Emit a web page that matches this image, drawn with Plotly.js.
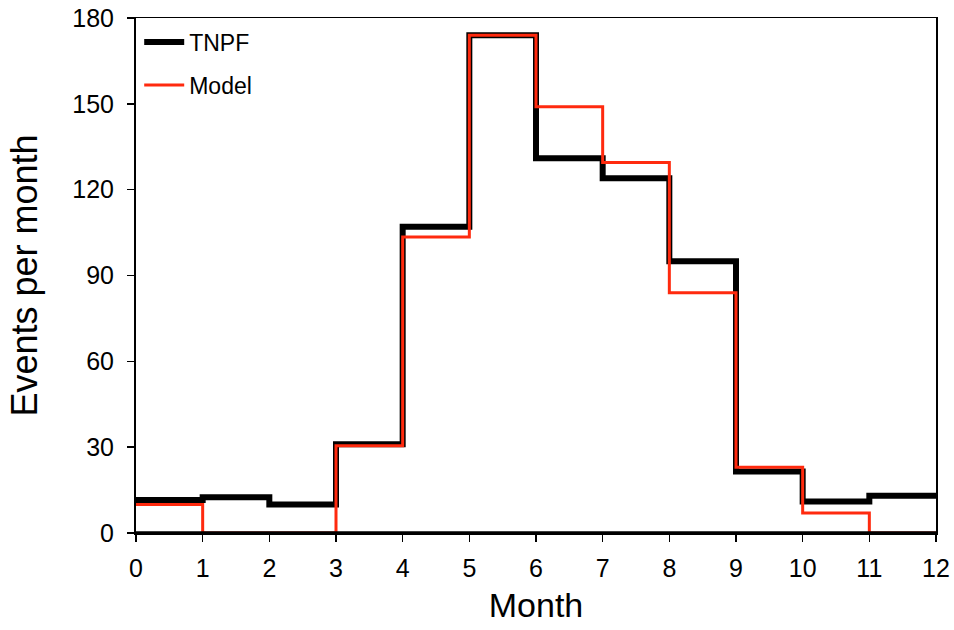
<!DOCTYPE html>
<html>
<head>
<meta charset="utf-8">
<script src="https://cdn.plot.ly/plotly-3.0.1.min.js"></script>
<style>html,body{margin:0;padding:0;background:#fff;}#chart{width:954px;height:630px;}</style>
</head>
<body>
<div id="chart"></div>
<script>
// Month bin edges (step starts); last value repeated to close the final step at 12
const months = [0,1,2,3,4,5,6,7,8,9,10,11,12];
const tnpf   = [11.5,12.5,10,31,107,174,131,124,95,21.5,11,13,13];
const model  = [10,0,0,30.5,103.5,174,149,129.5,84,23,7,0,0];
const xTicks = [0,1,2,3,4,5,6,7,8,9,10,11,12];
const yTicks = [0,30,60,90,120,150,180];

const font = 'Liberation Sans, Arial, sans-serif';

const traces = [
  {x: months, y: tnpf, name: 'TNPF', mode: 'lines', line: {shape: 'hv', color: '#000000', width: 6},
   legendgroup: 'a'},
  {x: months, y: model, name: 'Model', mode: 'lines', line: {shape: 'hv', color: '#ff2a0e', width: 3},
   legendgroup: 'b'}
];

const layout = {
  width: 954, height: 630,
  margin: {l: 136, r: 18, t: 18, b: 97},
  paper_bgcolor: '#ffffff', plot_bgcolor: '#ffffff',
  font: {family: font, color: '#000000', size: 22},
  showlegend: true,
  legend: {x: 0.004, y: 0.995, xanchor: 'left', yanchor: 'top', bgcolor: 'rgba(0,0,0,0)',
           font: {size: 23, family: font}, tracegroupgap: 10, traceorder: 'grouped',
           itemwidth: 40},
  // baseline overlay so the model's zero-level segments sit under the axis line, as in the original
  shapes: [{type: 'line', xref: 'paper', yref: 'y', x0: 0, x1: 1, y0: 0, y1: 0,
            line: {color: '#000000', width: 3.5}, layer: 'above'}],
  xaxis: {
    range: [0, 12], tickvals: xTicks, ticktext: xTicks.map(String),
    ticks: 'outside', ticklen: 7, tickwidth: 1.5, tickcolor: '#000',
    showline: true, linecolor: '#000', linewidth: 1.5, mirror: true,
    showgrid: false, zeroline: false, ticklabelstandoff: 5,
    tickfont: {size: 25, family: font},
    title: {text: 'Month', font: {size: 34, family: font}, standoff: 12}
  },
  yaxis: {
    range: [0, 180], tickvals: yTicks, ticktext: yTicks.map(String),
    ticks: 'outside', ticklen: 7, tickwidth: 1.5, tickcolor: '#000',
    showline: true, linecolor: '#000', linewidth: 2, mirror: true,
    showgrid: false, zeroline: false, ticklabelstandoff: 8,
    tickfont: {size: 25, family: font},
    title: {text: 'Events per month', font: {size: 36, family: font}, standoff: 24}
  }
};

Plotly.newPlot('chart', traces, layout, {displayModeBar: false, staticPlot: true});
</script>
</body>
</html>
